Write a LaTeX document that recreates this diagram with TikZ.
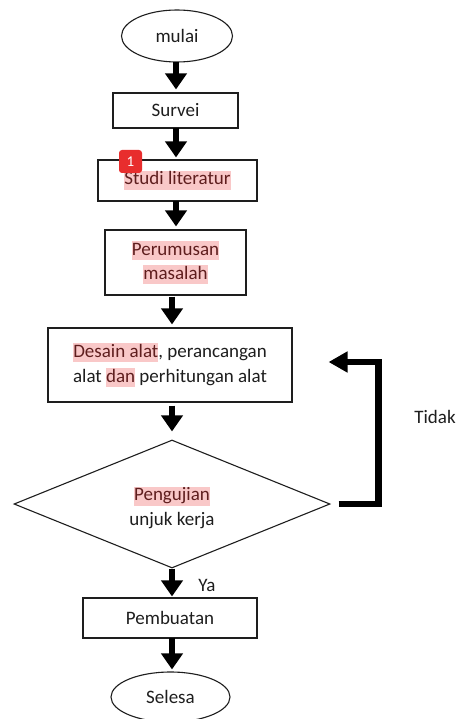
\documentclass[tikz,border=0pt]{standalone}
\usepackage{fontspec}
\setmainfont{Carlito}
\usetikzlibrary{arrows.meta,shapes.geometric,calc}
\definecolor{hlpink}{RGB}{249,200,200}
\definecolor{hltext}{RGB}{95,30,30}
\definecolor{ink}{RGB}{30,30,30}
\definecolor{badgered}{RGB}{232,45,45}
\newcommand{\hlw}[1]{{\setlength{\fboxsep}{0pt}\colorbox{hlpink}{\rule[-5pt]{0pt}{19pt}\textcolor{hltext}{#1}}}}
\tikzset{
  box/.style={draw=ink, line width=1.1pt, rectangle, inner sep=0pt, align=center, text=ink, font=\fontsize{19}{25}\selectfont},
  term/.style={draw=ink, line width=1.1pt, ellipse, inner sep=0pt, text=ink, font=\fontsize{19}{25}\selectfont},
  dec/.style={draw=ink, line width=1.1pt, diamond, inner sep=0pt},
  blk/.style={line width=6pt, -{Triangle[width=21pt,length=16pt]}, black},
  fb/.style={line width=6.5pt, line join=miter, -{Triangle[width=20pt,length=19pt]}, black},
  lbl/.style={text=ink, font=\fontsize{19}{25}\selectfont, inner sep=0pt}
}
\begin{document}
\begin{tikzpicture}[x=1pt,y=-1pt]
\fill[white] (0,0) rectangle (460,719);
\useasboundingbox (0,0) rectangle (460,719);
\begin{scope}
\clip (0,0) rectangle (460,719);
\node[term, minimum width=111pt, minimum height=52pt] (mulai) at (177,36) {mulai};
\node[box, minimum width=125pt, minimum height=35pt] (survei) at (175.5,110.5) {Survei};
\node[box, minimum width=159pt, minimum height=41pt] (studi) at (177.5,180.5) {\hlw{Studi literatur}};
\node[box, minimum width=141pt, minimum height=65pt] (rumus) at (175.5,262.5) {\hlw{Perumusan}\\[-1pt]\hlw{masalah}};
\node[box, minimum width=244pt, minimum height=74pt] (desain) at (170,365) {\hlw{Desain alat}, perancangan\\alat \hlw{dan} perhitungan alat};
\node[dec, minimum width=316pt, minimum height=128pt] (uji) at (172,504) {};
\node[lbl, align=center] (ujitext) at (172,508) {\hlw{Pengujian}\\unjuk kerja};
\node[box, minimum width=174pt, minimum height=40pt] (buat) at (170,618) {Pembuatan};
\node[term, minimum width=119pt, minimum height=50pt] (selesa) at (170.5,697) {Selesa};

\coordinate (a1s) at (176,62);
\coordinate (a2s) at (176,128);
\coordinate (a3s) at (176,201);
\coordinate (a7s) at (172,638);
\draw[blk, shorten >=3pt] (a1s) -- (a1s |- survei.north);
\draw[blk, shorten >=2pt] (a2s) -- (a2s |- studi.north);
\draw[blk, shorten >=3pt] (a3s) -- (a3s |- rumus.north);
\draw[blk, shorten <=1pt, shorten >=3pt] (rumus.south -| uji.north) -- (desain.north -| uji.north);
\draw[blk, shorten <=3pt, shorten >=8pt] (desain.south -| uji.north) -- (uji.north);
\draw[blk, shorten >=1pt] (uji.south) -- (uji.south |- buat.north);
\draw[blk, shorten >=2pt] (a7s) -- (a7s |- selesa.north);

\draw[fb] ([xshift=8pt]uji.east) -- ++(40,0) |- ([xshift=36pt,yshift=3pt]desain.east);

\node[lbl] (ya) at (207,585) {Ya};
\node[lbl] (tidak) at (435,417) {Tidak};

\node[fill=badgered, rounded corners=3pt, minimum width=23pt, minimum height=23pt, inner sep=0pt, text=white, font=\fontsize{15}{18}\selectfont] (badge) at (130.5,161.5) {1};
\end{scope}
\end{tikzpicture}
\end{document}
